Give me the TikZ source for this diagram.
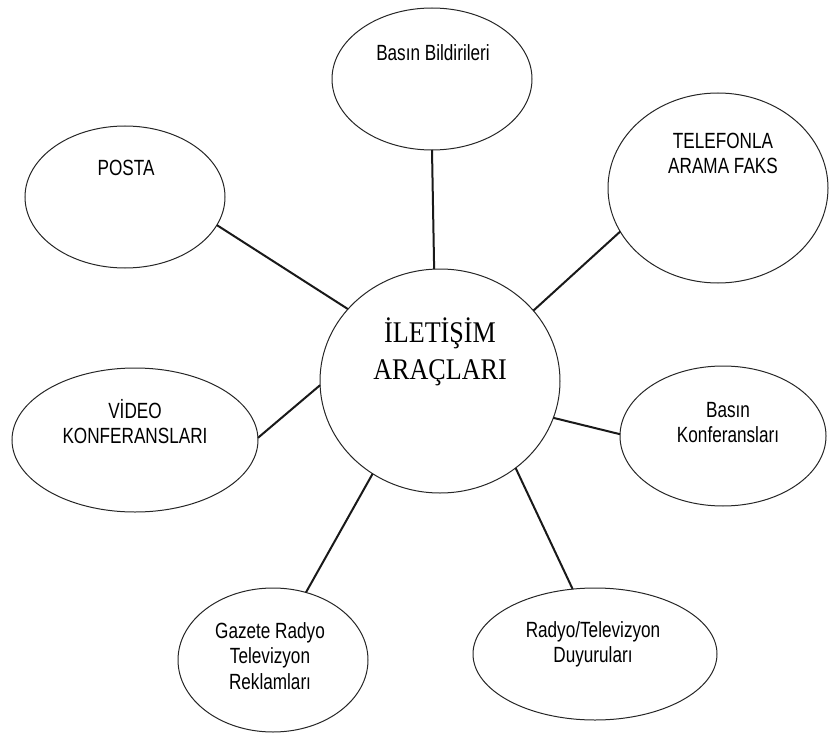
\documentclass[tikz,border=0pt]{standalone}
\usepackage{fontspec}
\usetikzlibrary{shapes.geometric}
\newfontfamily\lblfont[FakeStretch=0.78]{Liberation Sans}
\newfontfamily\ctrfont[FakeStretch=0.87]{Liberation Serif}
\tikzset{
  bubble/.style={ellipse, draw=black!85, line width=1pt, inner sep=0pt, outer sep=0pt},
  lbl/.style={anchor=north, align=center, inner sep=0pt,
    font=\lblfont\fontsize{22pt}{25.5pt}\selectfont},
  ctr/.style={anchor=north, align=center, inner sep=0pt,
    font=\ctrfont\fontsize{30pt}{37pt}\selectfont},
  link/.style={line width=2pt, black!90}
}
\newcommand{\lstrut}{\rule{0pt}{21pt}}
\newcommand{\cstrut}{\rule{0pt}{30pt}}
\begin{document}
\begin{tikzpicture}[x=1pt,y=-1pt]
\useasboundingbox (0,0) rectangle (830,733);
% ellipses
\node[bubble, minimum width=240pt, minimum height=224pt] (c) at (440,381) {};
\node[bubble, minimum width=200pt, minimum height=142pt] (bb) at (432,79) {};
\node[bubble, minimum width=220pt, minimum height=190pt] (tel) at (718,188) {};
\node[bubble, minimum width=200pt, minimum height=142pt] (posta) at (125,197) {};
\node[bubble, minimum width=246pt, minimum height=144pt] (video) at (135,440) {};
\node[bubble, minimum width=206pt, minimum height=140pt] (konf) at (723,436) {};
\node[bubble, minimum width=190pt, minimum height=144pt] (gaz) at (273,660) {};
\node[bubble, minimum width=244pt, minimum height=132pt] (radyo) at (595,654) {};
% texts
\node[ctr] (ct) at (440,312) {\cstrut İLETİŞİM\\ARAÇLARI};
\node[lbl] (bbt) at (433,39) {\lstrut Basın Bildirileri};
\node[lbl] (telt) at (723,127) {\lstrut TELEFONLA\\ARAMA FAKS};
\node[lbl] (postat) at (126,154) {\lstrut POSTA};
\node[lbl] (videot) at (135,397) {\lstrut VİDEO\\KONFERANSLARI};
\node[lbl] (konft) at (728,396) {\lstrut Basın\\Konferansları};
\node[lbl] (gazt) at (270,617) {\lstrut Gazete Radyo\\Televizyon\\Reklamları};
\node[lbl] (radyot) at (593,616) {\lstrut Radyo/Televizyon\\Duyuruları};
% connectors
\draw[link] (bb.270) -- (c.93.6);
\draw[link] (tel.204.7) -- (c.37.7);
\draw[link] (posta.343.9) -- (c.142.9);
\draw[link] (video.1.4) -- (c.182.9);
\draw[link] (konf.179.4) -- (c.-18.3);
\draw[link] (gaz.64) -- (c.234.8);
\draw[link] (radyo.109.2) -- (c.-49.9);
\end{tikzpicture}
\end{document}
